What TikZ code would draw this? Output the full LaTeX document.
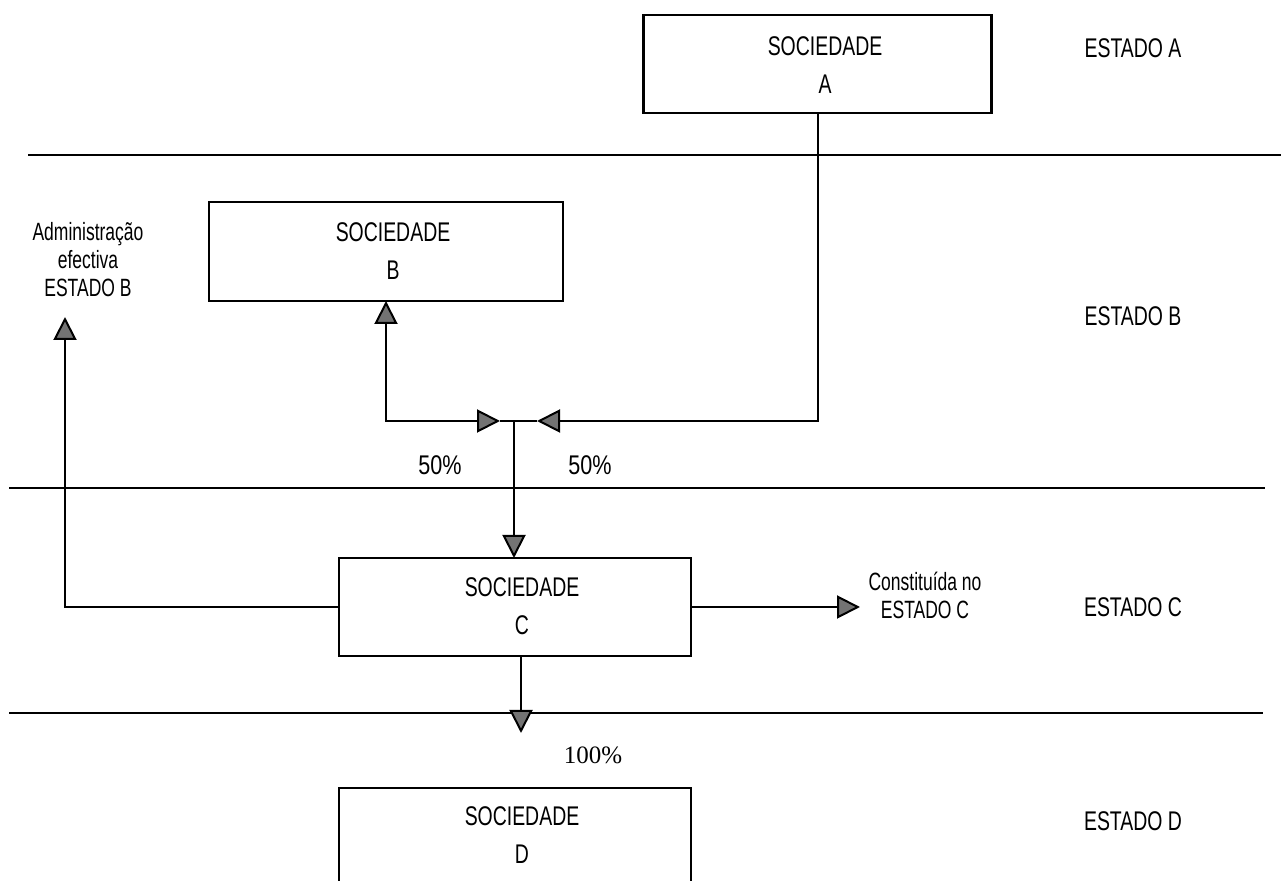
\documentclass[tikz,border=0pt]{standalone}
\usepackage{fontspec}
\usetikzlibrary{arrows.meta}
\newfontfamily\narrowsans{Liberation Sans}[FakeStretch=0.72]
\newfontfamily\notesans{Liberation Sans}[FakeStretch=0.7]
\newfontfamily\pctsans{Liberation Sans}[FakeStretch=0.8]
\newfontfamily\pctserif{Liberation Serif}
\begin{document}
\begin{tikzpicture}[x=0.5pt,y=-0.5pt,
  every node/.style={inner sep=0pt, outer sep=0pt},
  >={Triangle[length=11.5pt,width=11.5pt,fill=black!55]},
  company/.style={draw, line width=1.3pt, minimum width=176pt, minimum height=49pt},
  boxtext/.style={align=center, font=\narrowsans\fontsize{13.5}{19}\selectfont},
  notetext/.style={align=center, font=\notesans\fontsize{12.5}{14}\selectfont},
  statetext/.style={font=\narrowsans\fontsize{13.5}{15}\selectfont},
  pcttext/.style={font=\pctsans\fontsize{13.5}{15}\selectfont},
  link/.style={line width=1pt},
  arr/.style={link,->},
  both/.style={link,<->},
  rule/.style={line width=1.1pt}]
\useasboundingbox (0,0) rectangle (1281,881);

% borders between the states
\draw[rule] (28,155) -- (1281,155);
\draw[rule] (9,488) -- (1265,488);
\draw[rule] (9,713) -- (1263,713);

% companies
\node[company, minimum width=174pt] (A) at (817.5,64) {};
\node[boxtext] (Alab) at (825,65) {SOCIEDADE\\A};
\node[company, minimum width=177pt, minimum height=49.5pt] (B) at (386,251.5) {};
\node[boxtext] (Blab) at (393,251.5) {SOCIEDADE\\B};
\node[company] (C) at (515,607) {};
\node[boxtext] (Clab) at (522,606.5) {SOCIEDADE\\C};
\draw[line width=1.3pt] (339,900) -- (339,788) -- (691,788) -- (691,900);
\node[boxtext] (Dlab) at (522,835.5) {SOCIEDADE\\D};

% shareholdings
\coordinate (J) at (514,421);
\coordinate (tipR) at (500,421);
\coordinate (tipL) at (537,421);
\draw[link] (tipR) -- (J) -- (tipL);
\draw[both] (tipR) -| (B.south);
\draw[arr] (A.south) |- (tipL);
\draw[arr] (J) -- (J |- C.north);
\coordinate (dtip) at (521,733);
\draw[arr] (C.south -| dtip) -- (dtip);
\coordinate (adm) at (65,317);
\draw[arr] (C.west) -| (adm);
\coordinate (cst) at (860,607);
\draw[arr] (C.east) -- (cst);

% notes
\node[notetext] (admin) at (88,260) {Administração\\efectiva\\ESTADO B};
\node[notetext] (const) at (925,595) {Constituída no\\ESTADO C};
\node[pcttext] (pB) at (440,465) {50\%};
\node[pcttext] (pA) at (590,465) {50\%};
\node[font=\pctserif\fontsize{12.5}{15}\selectfont] (pC) at (593,755) {100\%};

% state names
\node[statetext] (sA) at (1133,48) {ESTADO A};
\node[statetext] (sB) at (1133,316) {ESTADO B};
\node[statetext] (sC) at (1133,607) {ESTADO C};
\node[statetext] (sD) at (1133,821) {ESTADO D};
\end{tikzpicture}
\end{document}
